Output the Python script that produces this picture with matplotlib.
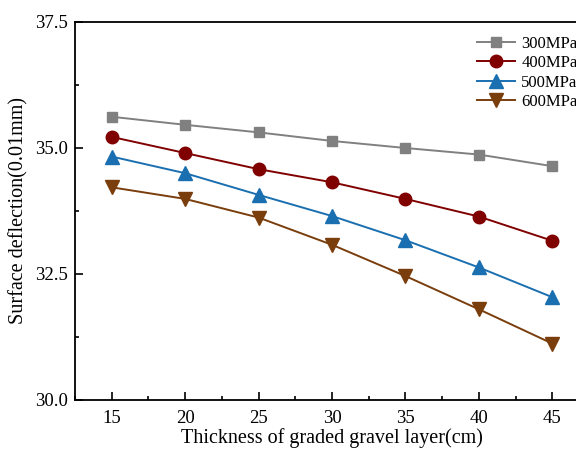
import matplotlib.pyplot as plt
from matplotlib.ticker import MultipleLocator

# thickness of the graded gravel layer (cm)
thickness = [15, 20, 25, 30, 35, 40, 45]

# surface deflection (0.01 mm) for each base modulus
defl_300 = [35.62, 35.46, 35.31, 35.14, 35.00, 34.87, 34.64]
defl_400 = [35.22, 34.90, 34.58, 34.32, 33.99, 33.64, 33.16]
defl_500 = [34.83, 34.50, 34.07, 33.65, 33.17, 32.63, 32.04]
defl_600 = [34.22, 33.99, 33.62, 33.08, 32.46, 31.80, 31.12]

labels = ["300MPa", "400MPa", "500MPa", "600MPa"]

plt.rcParams["font.family"] = ["Liberation Serif", "DejaVu Serif"]

fig = plt.figure(figsize=(5.76, 4.49), dpi=100)
# right spine sits just past the edge of the figure
ax = fig.add_axes([75 / 576, 49 / 449, 514 / 576, 378 / 449])

series = [
    (defl_300, "s", "#808080", 7.5),
    (defl_400, "o", "#800000", 9),
    (defl_500, "^", "#1a6fb0", 9.5),
    (defl_600, "v", "#7a3d0c", 9.5),
]
for (vals, mk, col, ms), lab in zip(series, labels):
    ax.plot(thickness, vals, marker=mk, color=col, markersize=ms,
            linewidth=1.4, label=lab)

ax.set_xlim(12.5, 47.5)
ax.set_ylim(30.0, 37.5)
ax.xaxis.set_major_locator(MultipleLocator(5))
ax.xaxis.set_minor_locator(MultipleLocator(2.5))
ax.yaxis.set_major_locator(MultipleLocator(2.5))
ax.yaxis.set_minor_locator(MultipleLocator(1.25))
ax.yaxis.set_major_formatter(plt.FormatStrFormatter("%.1f"))
ax.tick_params(which="both", direction="in", labelsize=13.5, width=1.2)
ax.tick_params(axis="x", pad=7)
ax.tick_params(axis="y", pad=5)
ax.tick_params(which="major", length=6)
ax.tick_params(which="minor", length=3)
for sp in ax.spines.values():
    sp.set_linewidth(1.3)

ax.set_xlabel("Thickness of graded gravel layer(cm)", fontsize=14.5, labelpad=1)
ax.set_ylabel("Surface deflection(0.01mm)", fontsize=14.5, labelpad=5)

ax.legend(loc="upper left", bbox_to_anchor=(477 / 576, 1 - 36 / 449),
          bbox_transform=fig.transFigure, frameon=False, fontsize=12,
          borderpad=0, labelspacing=0.2, handlelength=2.3,
          handletextpad=0.35, borderaxespad=0)

fig.savefig("out.png", dpi=100)
